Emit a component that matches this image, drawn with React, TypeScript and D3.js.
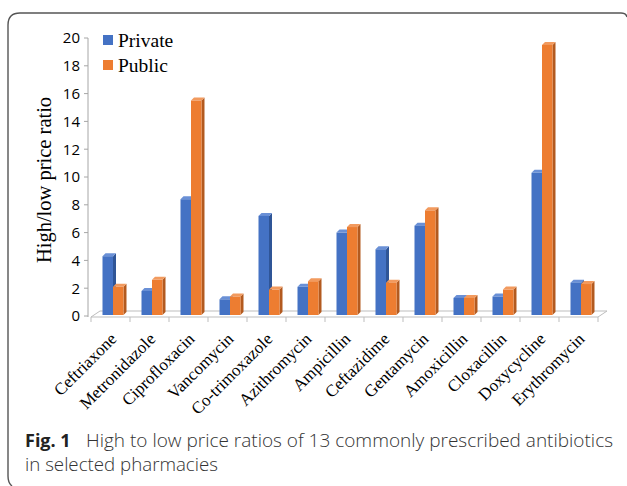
import React, { useRef, useEffect } from "react";
import * as d3 from "d3";

const drugs = [
  "Ceftriaxone",
  "Metronidazole",
  "Ciprofloxacin",
  "Vancomycin",
  "Co-trimoxazole",
  "Azithromycin",
  "Ampicillin",
  "Ceftazidime",
  "Gentamycin",
  "Amoxicillin",
  "Cloxacillin",
  "Doxycycline",
  "Erythromycin",
];
const privateRatio = [4.3, 1.8, 8.4, 1.2, 7.2, 2.1, 6.0, 4.8, 6.5, 1.3, 1.4, 10.3, 2.4];
const publicRatio = [2.1, 2.6, 15.5, 1.4, 1.9, 2.5, 6.4, 2.4, 7.6, 1.3, 1.9, 19.5, 2.3];
const seriesNames = ["Private", "Public"];
const yTicks = [0, 2, 4, 6, 8, 10, 12, 14, 16, 18, 20];

const W = 627;
const H = 486;

const palette: Record<string, { front: string; side: string; top: string }> = {
  Private: { front: "#4472C4", side: "#2F5597", top: "#6A90D6" },
  Public: { front: "#ED7D31", side: "#B35A1F", top: "#F29A5E" },
};

const App: React.FC = () => {
  const svgRef = useRef<SVGSVGElement | null>(null);

  useEffect(() => {
    document.body.style.margin = "0";
    if (!svgRef.current) return;
    const svg = d3.select(svgRef.current);
    svg.selectAll("*").remove();

    const x = d3.scaleBand<string>().domain(drugs).range([91, 598]);
    const xs = d3.scaleBand<string>().domain(seriesNames).range([11.5, 32.5]);
    const y = d3.scaleLinear().domain([0, 20]).range([316, 38]);
    const depth = 3;
    const y0 = y(0);

    // frame
    svg
      .append("path")
      .attr("d", `M12,${H} Q8,${H - 3} 8,${H - 10} L8,25 Q8,13 20,13 L621,13 Q626,13 627,17`)
      .attr("fill", "none")
      .attr("stroke", "#555")
      .attr("stroke-width", 1.4);

    // floor
    const fx0 = x.range()[0];
    const fx1 = x.range()[1];
    svg
      .append("path")
      .attr(
        "d",
        `M${fx0},${y0 + 1} L${fx0 + 9},${y0 - 5} L${fx1 + 9},${y0 - 5} L${fx1},${y0 + 1} Z`
      )
      .attr("fill", "none")
      .attr("stroke", "#bdbdbd")
      .attr("stroke-width", 1);

    // x ticks
    const bounds = drugs.map((d) => x(d) as number).concat([fx1]);
    svg
      .append("g")
      .selectAll("line")
      .data(bounds)
      .join("line")
      .attr("x1", (d) => d)
      .attr("x2", (d) => d)
      .attr("y1", y0 + 1)
      .attr("y2", y0 + 6)
      .attr("stroke", "#bdbdbd");

    // y axis
    const ax = svg.append("g");
    ax.append("line")
      .attr("x1", 88)
      .attr("x2", 88)
      .attr("y1", y(20))
      .attr("y2", y0 + 1)
      .attr("stroke", "#a6a6a6");
    ax.selectAll("line.tk")
      .data(yTicks)
      .join("line")
      .attr("class", "tk")
      .attr("x1", 84)
      .attr("x2", 88)
      .attr("y1", (d) => y(d))
      .attr("y2", (d) => y(d))
      .attr("stroke", "#a6a6a6");
    ax.selectAll("text")
      .data(yTicks)
      .join("text")
      .attr("x", 80)
      .attr("y", (d) => y(d))
      .attr("dy", "0.36em")
      .attr("text-anchor", "end")
      .attr("font-family", "'Open Sans', sans-serif")
      .attr("font-size", "15px")
      .attr("fill", "#000")
      .text((d) => d);

    // y title
    svg
      .append("text")
      .attr("transform", `translate(51,${180}) rotate(-90)`)
      .attr("text-anchor", "middle")
      .attr("font-family", "'Liberation Serif', serif")
      .attr("font-size", "20.5px")
      .attr("fill", "#000")
      .text("High/low price ratio");

    // bars
    const bars = svg.append("g");
    drugs.forEach((drug, i) => {
      const vals = [privateRatio[i], publicRatio[i]];
      seriesNames.forEach((s, j) => {
        const c = palette[s];
        const bx = (x(drug) as number) + (xs(s) as number);
        const bw = xs.bandwidth();
        const yt = y(vals[j]);
        const yb = y0 - 1;
        bars
          .append("path")
          .attr(
            "d",
            `M${bx + bw},${yt} L${bx + bw + depth},${yt - depth} L${bx + bw + depth},${yb - depth} L${bx + bw},${yb} Z`
          )
          .attr("fill", c.side);
        bars
          .append("path")
          .attr(
            "d",
            `M${bx},${yt} L${bx + depth},${yt - depth} L${bx + bw + depth},${yt - depth} L${bx + bw},${yt} Z`
          )
          .attr("fill", c.top);
        bars
          .append("rect")
          .attr("x", bx)
          .attr("y", yt)
          .attr("width", bw)
          .attr("height", yb - yt)
          .attr("fill", c.front);
      });
    });

    // x labels
    svg
      .append("g")
      .selectAll("text")
      .data(drugs)
      .join("text")
      .attr(
        "transform",
        (d) => `translate(${(x(d) as number) + x.bandwidth() / 2 + 7},${y0 + 24}) rotate(-45)`
      )
      .attr("text-anchor", "end")
      .attr("font-family", "'Liberation Serif', serif")
      .attr("font-size", "17px")
      .attr("fill", "#000")
      .text((d) => d);

    // legend
    const lg = svg.append("g");
    seriesNames.forEach((s, i) => {
      lg.append("rect")
        .attr("x", 103)
        .attr("y", 35 + i * 25)
        .attr("width", 10)
        .attr("height", 10)
        .attr("fill", palette[s].front);
      lg.append("text")
        .attr("x", 118)
        .attr("y", 47 + i * 25)
        .attr("font-family", "'Liberation Serif', serif")
        .attr("font-size", "19.5px")
        .attr("fill", "#000")
        .text(s);
    });

    // caption
    const cap = svg
      .append("text")
      .attr("x", 25)
      .attr("y", 447)
      .attr("font-family", "'Open Sans', sans-serif")
      .attr("font-size", "18px")
      .attr("fill", "#333");
    cap.append("tspan").attr("font-weight", 700).attr("fill", "#222").text("Fig. 1");
    cap
      .append("tspan")
      .attr("x", 86)
      .attr("font-weight", 300)
      .attr("textLength", 527)
      .attr("lengthAdjust", "spacingAndGlyphs")
      .text("High to low price ratios of 13 commonly prescribed antibiotics");
    svg
      .append("text")
      .attr("x", 25)
      .attr("y", 471)
      .attr("font-family", "'Open Sans', sans-serif")
      .attr("font-size", "18px")
      .attr("font-weight", 300)
      .attr("fill", "#333")
      .attr("textLength", 193)
      .attr("lengthAdjust", "spacingAndGlyphs")
      .text("in selected pharmacies");
  }, []);

  return <svg ref={svgRef} width={W} height={H} style={{ display: "block" }} />;
};

export default App;
